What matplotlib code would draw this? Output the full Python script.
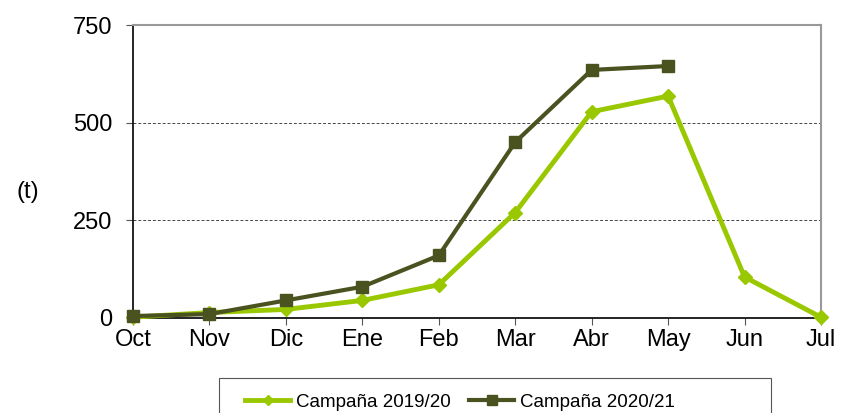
import matplotlib

matplotlib.use("Agg")
import matplotlib.pyplot as plt
from matplotlib.patches import Rectangle

plt.rcParams["font.family"] = ["Liberation Sans", "DejaVu Sans"]

MONTHS = ["Oct", "Nov", "Dic", "Ene", "Feb", "Mar", "Abr", "May", "Jun", "Jul"]
C1920 = [2, 14, 22, 45, 85, 270, 528, 568, 105, 2]
C2021 = [5, 10, 45, 80, 160, 450, 635, 645]
YTICKS = [0, 250, 500, 750]

W, H = 841, 413
fig = plt.figure(figsize=(W / 100, H / 100), dpi=100)
ax = fig.add_axes([133 / W, 1 - 318 / H, 688 / W, 293 / H])

x1 = list(range(len(C1920)))
x2 = list(range(len(C2021)))
ax.plot(x1, C1920, color="#99c800", lw=3.5, marker="D", ms=7, label="Campaña 2019/20",
        clip_on=False, zorder=3)
ax.plot(x2, C2021, color="#4a5220", lw=3, marker="s", ms=8.5, label="Campaña 2020/21",
        clip_on=False, zorder=4)

ax.set_xlim(0, len(MONTHS) - 1)
ax.set_ylim(0, 750)
ax.set_xticks(x1, MONTHS)
ax.set_yticks(YTICKS)
ax.tick_params(axis="both", labelsize=17, length=5, width=0.8, color="#555555")
ax.tick_params(axis="x", pad=3)
ax.tick_params(axis="y", pad=10)
for v in YTICKS[1:3]:
    ax.axhline(v, color="#444444", lw=0.7, ls=(0, (3, 2)), zorder=1)

ax.spines["left"].set_color("black")
ax.spines["bottom"].set_color("black")
ax.spines["left"].set_linewidth(1.2)
ax.spines["bottom"].set_linewidth(1.2)
ax.spines["top"].set_color("#999999")
ax.spines["right"].set_color("#999999")
ax.spines["top"].set_linewidth(1.5)
ax.spines["right"].set_linewidth(1.5)

fig.text(28 / W, 1 - 192 / H, "(t)", fontsize=17, ha="center", va="center")

# legend entries without frame; the Excel-style box is drawn separately (wider on the right)
fig.legend(loc="center left", bbox_to_anchor=(245 / W, 1 - 402 / H), ncol=2,
           frameon=False, fontsize=13.5, handlelength=2.4, columnspacing=1.0,
           handletextpad=0.3, borderpad=0, borderaxespad=0, markerscale=0.8)
fig.patches.append(Rectangle((219 / W, -0.05), (771 - 219) / W, 0.05 + (413 - 378) / H,
                             transform=fig.transFigure, fill=False, edgecolor="#555555",
                             lw=0.8))

fig.savefig("out.png", dpi=100)
